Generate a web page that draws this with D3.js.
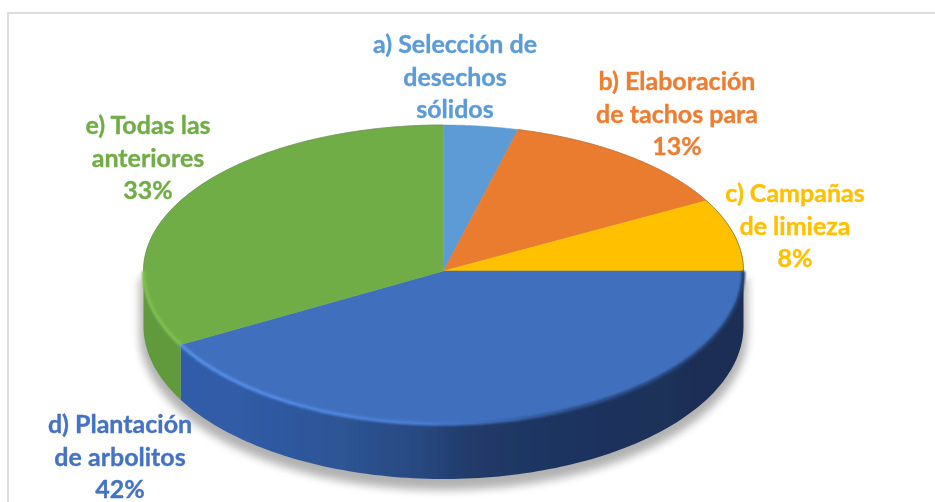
<!DOCTYPE html>
<html><head><meta charset="utf-8">
<script src="https://cdn.jsdelivr.net/npm/d3@7"></script>
<style>html,body{margin:0;padding:0;background:#fff;overflow:hidden}svg{display:block}text{font-family:Lato,sans-serif;font-weight:700;font-size:25px;text-anchor:middle;stroke-width:.35px}</style>
</head><body><svg id="c" width="935" height="502"></svg>
<script>
const categories = ["a) Selección de desechos sólidos","b) Elaboración de tachos para","c) Campañas de limieza","d) Plantación de arbolitos","e) Todas las anteriores"];
const values = [4,13,8,42,33];
const colors = ["#5b9bd5","#e97b2e","#ffc000","#4170bd","#70ad47"];
const labelColors = ["#5b9bd5","#ed7d31","#ffc000","#4472c4","#70ad47"];
const labelLines = [
  ["a) Selección de","desechos","sólidos"],
  ["b) Elaboración","de tachos para","13%"],
  ["c) Campañas","de limieza","8%"],
  ["d) Plantación","de arbolitos","42%"],
  ["e) Todas las","anteriores","33%"]
];
const labelX = [455,677,795,120,148];
const labelY = [53,90,202,433,134];

const W=935,H=502,cx=443.5,cy=271,rx=300,ryTop=146,ryBottom=153,depth=55,lineH=32.5;
const svg=d3.select("#c");
const defs=svg.append("defs");
const blur=(id,s)=>defs.append("filter").attr("id",id).attr("x","-10%").attr("y","-10%").attr("width","120%").attr("height","130%").append("feGaussianBlur").attr("stdDeviation",s);
blur("soft",0.6);blur("shadow",4);blur("txt",0.4);blur("rim",1.1);
function grad(id,stops){const g=defs.append("linearGradient").attr("id",id).attr("gradientUnits","userSpaceOnUse").attr("x1",cx-rx).attr("x2",cx+rx).attr("y1",0).attr("y2",0);
  stops.forEach(([o,c])=>g.append("stop").attr("offset",o).attr("stop-color",c));}
grad("sideBlue",[[0,"#2f5da8"],[.14,"#305ca8"],[.32,"#2e5596"],[.45,"#284a82"],[.55,"#213a68"],[.7,"#1d3460"],[1,"#1a2d52"]]);
grad("rimBlue",[[0.05,"#5a8fe8"],[.3,"#4f86e2"],[.45,"#4a7ed4"],[.55,"#3f6dbd"],[.72,"#2a4a85"],[1,"#1f3864"]]);

const pie=d3.pie().sort(null).value(d=>d);
const arcs=pie(values);
const project=(a,dy=0)=>{const c=Math.cos(a);return [cx+rx*Math.sin(a),cy-c*(c>0?ryTop:ryBottom)+dy];};
const sample=(a0,a1,dy=0)=>d3.range(0,121).map(i=>project(a0+(a1-a0)*i/120,dy));
const line=d3.line();
const facePath=d=>line([[cx,cy],...sample(d.startAngle,d.endAngle)])+"Z";
const sidePath=(a0,a1)=>line([...sample(a0,a1),...sample(a1,a0,depth)])+"Z";

const g=svg.append("g");
// panel border
svg.insert("path","g").attr("d",line([[8,H],[8,13],[W,13]])).attr("fill","none").attr("stroke","#dcdcdc").attr("stroke-width",2);
// shadow
g.append("path").attr("d",sidePath(Math.PI/2,Math.PI*1.5)).attr("transform","translate(0,7)").attr("fill","#000").attr("stroke","#000").attr("stroke-width",8).attr("opacity",.3).attr("filter","url(#shadow)");

const pieG=g.append("g").attr("filter","url(#soft)");
const front=arcs.filter(d=>d.endAngle>Math.PI/2+1e-6&&d.startAngle<Math.PI*1.5-1e-6);
pieG.selectAll("path.side").data(front).join("path").attr("class","side")
  .attr("d",d=>sidePath(Math.max(d.startAngle,Math.PI/2),Math.min(d.endAngle,Math.PI*1.5)))
  .attr("fill",d=>d.index===3?"url(#sideBlue)":"#609a3c");
pieG.selectAll("path.face").data(arcs).join("path").attr("class","face")
  .attr("d",facePath).attr("fill",d=>colors[d.index]).attr("stroke",d=>colors[d.index]).attr("stroke-width",.5);
// rims
const rimG=g.append("g").attr("filter","url(#rim)");
rimG.append("path").attr("d",line(sample(arcs[3].startAngle,arcs[3].endAngle))).attr("fill","none").attr("stroke","url(#rimBlue)").attr("stroke-width",3.5);
rimG.append("path").attr("d",line(sample(arcs[4].startAngle,Math.PI*1.5))).attr("fill","none").attr("stroke","#7fc04f").attr("stroke-width",3.5);
pieG.append("path").attr("d",line(sample(Math.PI*1.5,Math.PI*2))).attr("fill","none").attr("stroke","#6b7f5a").attr("stroke-width",.8).attr("opacity",.7);
pieG.append("path").attr("d",line(sample(arcs[1].startAngle,arcs[1].endAngle))).attr("fill","none").attr("stroke","#9a6a45").attr("stroke-width",.8).attr("opacity",.7);
pieG.append("path").attr("d",line(sample(arcs[2].startAngle,arcs[2].endAngle))).attr("fill","none").attr("stroke","#8a7a2a").attr("stroke-width",1);

// labels
const lab=svg.append("g").selectAll("text").data(labelLines).join("text")
  .attr("x",(d,i)=>labelX[i]).attr("y",(d,i)=>labelY[i]).attr("fill",(d,i)=>labelColors[i]).attr("stroke",(d,i)=>labelColors[i])
  .attr("filter","url(#txt)");
lab.selectAll("tspan").data(d=>d).join("tspan").attr("x",function(){return d3.select(this.parentNode).attr("x");}).attr("dy",(d,i)=>i?lineH:0).text(d=>d);
</script></body></html>
